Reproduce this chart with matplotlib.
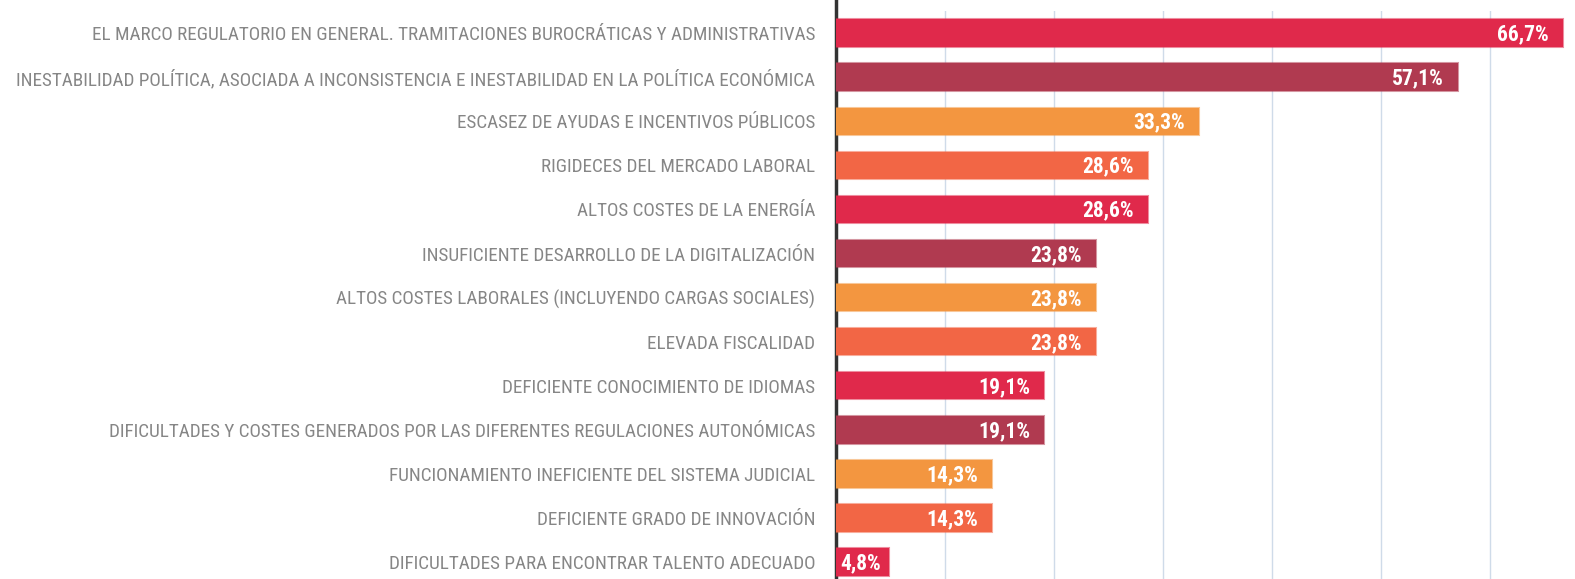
import matplotlib
matplotlib.use("Agg")
import matplotlib.pyplot as plt
import numpy as np

labels = [
    "EL MARCO REGULATORIO EN GENERAL. TRAMITACIONES BUROCRÁTICAS Y ADMINISTRATIVAS",
    "INESTABILIDAD POLÍTICA, ASOCIADA A INCONSISTENCIA E INESTABILIDAD EN LA POLÍTICA ECONÓMICA",
    "ESCASEZ DE AYUDAS E INCENTIVOS PÚBLICOS",
    "RIGIDECES DEL MERCADO LABORAL",
    "ALTOS COSTES DE LA ENERGÍA",
    "INSUFICIENTE DESARROLLO DE LA DIGITALIZACIÓN",
    "ALTOS COSTES LABORALES (INCLUYENDO CARGAS SOCIALES)",
    "ELEVADA FISCALIDAD",
    "DEFICIENTE CONOCIMIENTO DE IDIOMAS",
    "DIFICULTADES Y COSTES GENERADOS POR LAS DIFERENTES REGULACIONES AUTONÓMICAS",
    "FUNCIONAMIENTO INEFICIENTE DEL SISTEMA JUDICIAL",
    "DEFICIENTE GRADO DE INNOVACIÓN",
    "DIFICULTADES PARA ENCONTRAR TALENTO ADECUADO",
]
values = [66.7, 57.1, 33.3, 28.6, 28.6, 23.8, 23.8, 23.8, 19.1, 19.1, 14.3, 14.3, 4.8]

palette = ["#e0294b", "#b03a50", "#f39640", "#f26645"]
colors = [palette[i % 4] for i in range(len(values))]

plt.rcParams['font.family'] = ['Roboto Condensed', 'DejaVu Sans']

fig = plt.figure(figsize=(15.75, 5.79), dpi=100)
ax = fig.add_axes([0.531, -0.009, 0.469, 0.99])

y = np.arange(len(values))
ax.barh(y, values, height=0.62, color=colors, edgecolor=[c + "88" for c in colors],
        linewidth=1.5, zorder=3)

for yi, v in zip(y, values):
    txt = f"{v:.1f}%".replace(".", ",")
    if v < 10:
        # short bar: label starts just right of the axis
        ax.text(0.4, yi + 0.03, txt, ha="left", va="center",
                color="white", fontsize=15.5, fontweight="bold", zorder=4)
    else:
        ax.text(v - 1.3, yi + 0.03, txt, ha="right", va="center",
                color="white", fontsize=15.5, fontweight="bold", zorder=4)

ax.set_ylim(len(values) - 0.5, -0.5)
ax.set_xlim(0, 67.8)
ax.set_yticks(y)
ax.set_yticklabels(labels, fontsize=13.8, color="#868686")
ax.tick_params(axis="y", length=0, pad=15)
ax.set_xticks(np.arange(10, 70, 10))
ax.tick_params(axis="x", length=0, labelbottom=False)
ax.grid(axis="x", color="#cfdbe9", linewidth=1, zorder=0)

for s in ["top", "right", "bottom"]:
    ax.spines[s].set_visible(False)
ax.spines["left"].set_color("#333333")
ax.spines["left"].set_linewidth(2.5)
ax.spines["left"].set_bounds(-0.78, len(values) - 0.5)

fig.savefig("out.png", dpi=100)
